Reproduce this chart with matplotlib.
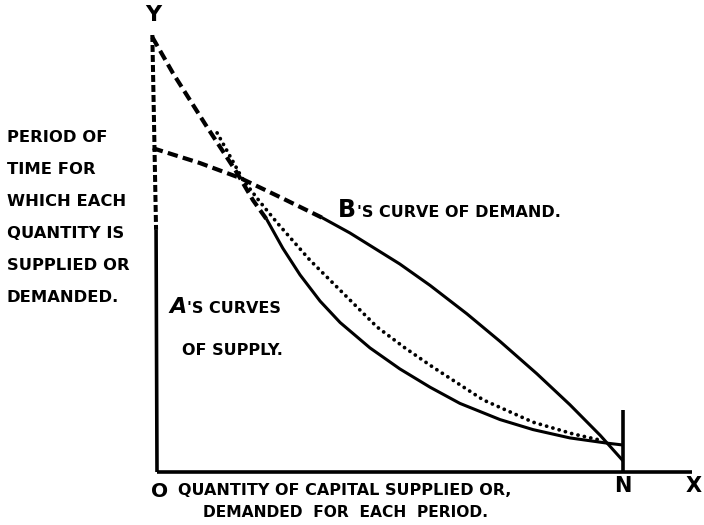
import matplotlib
matplotlib.use('Agg')
import matplotlib.pyplot as plt

plt.rcParams['lines.scale_dashes'] = False
plt.rcParams['font.family'] = ['DejaVu Sans']

# ---- data (chart units: O = (0,0), N at x = 10, Y at height 10) ----
yaxis_dash_x = [-0.10, -0.02]
yaxis_dash_y = [10.00, 5.54]
yaxis_solid_x = [-0.02, 0.0]
yaxis_solid_y = [5.54, 0.0]
xaxis_x = [0.0, 11.48]
xaxis_y = [0.0, 0.0]
n_line_x = [10.0, 10.0]
n_line_y = [1.42, 0.0]

# A's steep supply curve: dashed upper part, solid lower part
supply_dash_x = [-0.10, 0.34, 1.07, 1.72, 2.06, 2.36]
supply_dash_y = [9.95, 9.13, 7.90, 6.84, 6.22, 5.77]
supply_solid_x = [2.36, 2.70, 3.07, 3.50, 3.93, 4.57, 5.21, 5.86, 6.50, 7.36, 8.07, 8.86, 9.66, 9.98]
supply_solid_y = [5.77, 5.12, 4.51, 3.91, 3.42, 2.84, 2.36, 1.94, 1.57, 1.20, 0.97, 0.78, 0.66, 0.62]

# A's dotted supply curve
supply_dot_x = [1.29, 1.85, 2.21, 2.58, 3.28, 3.93, 4.72, 5.32, 5.92, 7.00, 8.07, 8.93, 9.51]
supply_dot_y = [7.76, 6.68, 6.18, 5.70, 4.85, 4.16, 3.32, 2.84, 2.40, 1.65, 1.14, 0.87, 0.73]

# B's demand curve: dashed left part, solid right part
demand_dash_x = [-0.09, 0.92, 1.78, 2.64, 3.56]
demand_dash_y = [7.41, 7.07, 6.73, 6.29, 5.81]
demand_solid_x = [3.56, 4.14, 5.21, 5.86, 6.65, 7.36, 8.15, 8.86, 9.51, 9.98]
demand_solid_y = [5.81, 5.47, 4.76, 4.27, 3.62, 2.99, 2.25, 1.54, 0.84, 0.28]

left_label = ["PERIOD OF", "TIME FOR", "WHICH EACH", "QUANTITY IS", "SUPPLIED OR", "DEMANDED."]

# ---- figure ----
W, H = 704, 525
fig = plt.figure(figsize=(7.04, 5.25), dpi=100)
ax = fig.add_axes([0, 0, 1, 1])
sx, sy = 46.6, 43.7
x0px, y0px = 157, 472
ax.set_xlim(-x0px / sx, (W - x0px) / sx)
ax.set_ylim(-(H - y0px) / sy, y0px / sy)
ax.axis('off')

k = 'black'
ax.plot(yaxis_dash_x, yaxis_dash_y, color=k, lw=2.9, linestyle=(0, (5, 2.2)))
ax.plot(yaxis_solid_x, yaxis_solid_y, color=k, lw=2.6, solid_capstyle='butt')
ax.plot(xaxis_x, xaxis_y, color=k, lw=2.6, solid_capstyle='butt')
ax.plot(n_line_x, n_line_y, color=k, lw=2.6, solid_capstyle='butt')

ax.plot(supply_dash_x, supply_dash_y, color=k, lw=3.0, linestyle=(0, (7.5, 3.8)))
ax.plot(supply_solid_x, supply_solid_y, color=k, lw=2.2, solid_joinstyle='round')
ax.plot(supply_dot_x, supply_dot_y, color=k, lw=2.7, linestyle=(0, (0.1, 4.6)),
        dash_capstyle='round')
ax.plot(demand_dash_x, demand_dash_y, color=k, lw=3.0, linestyle=(0, (7.5, 3.8)))
ax.plot(demand_solid_x, demand_solid_y, color=k, lw=2.2, solid_joinstyle='round')


def ftext(px, py, s, **kw):
    kw.setdefault('fontweight', 'bold')
    return fig.text(px / W, 1 - py / H, s, **kw)


# axis letters
ftext(153, 15, "Y", fontsize=16, ha='center', va='center')
ftext(623, 486, "N", fontsize=15, ha='center', va='center')
ftext(694, 486, "X", fontsize=15, ha='center', va='center')

# left label
for i, line in enumerate(left_label):
    ftext(7, 137 + i * 32.2, line, fontsize=11.8, ha='left', va='center')

# bottom label
ftext(151, 497, "O", fontsize=14.5, ha='left', va='baseline')
ftext(178, 495, "QUANTITY OF CAPITAL SUPPLIED OR,", fontsize=11.5, ha='left', va='baseline')
ftext(203, 517, "DEMANDED  FOR  EACH  PERIOD.", fontsize=11.2, ha='left', va='baseline')

# A's curves of supply
ftext(169, 313, "A", fontsize=16, ha='left', va='baseline', style='italic')
ftext(187, 313, "'S CURVES", fontsize=11.5, ha='left', va='baseline')
ftext(182, 355, "OF SUPPLY.", fontsize=11.5, ha='left', va='baseline')

# B's curve of demand
ftext(338, 217, "B", fontsize=17, ha='left', va='baseline')
ftext(357, 217, "'S CURVE OF DEMAND.", fontsize=11.5, ha='left', va='baseline')

fig.savefig('out.png', dpi=100, facecolor='white')
